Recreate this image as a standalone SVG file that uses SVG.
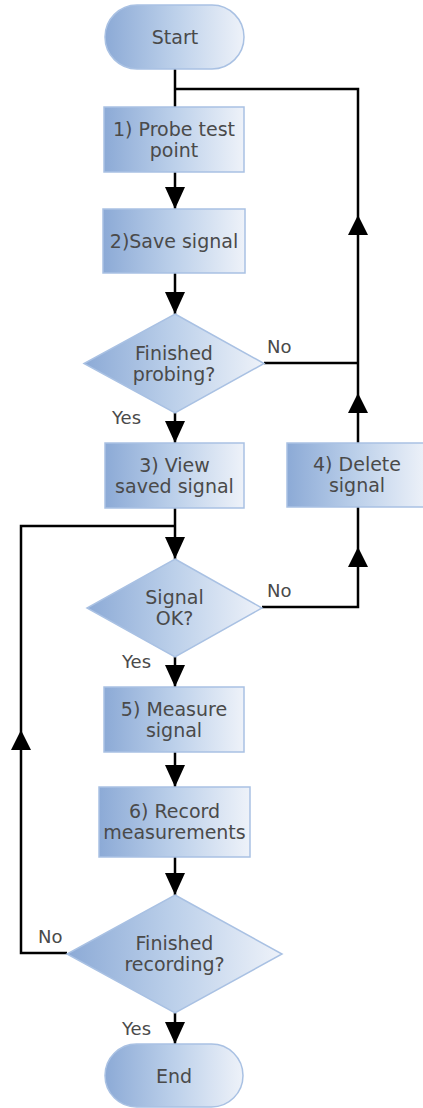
<svg xmlns="http://www.w3.org/2000/svg" width="423" height="1108" viewBox="0 0 423 1108">
<defs>
<linearGradient id="g" x1="0" y1="0" x2="1" y2="0">
<stop offset="0" stop-color="#8caad6"/>
<stop offset="0.5" stop-color="#bcd0ea"/>
<stop offset="1" stop-color="#eef2f9"/>
</linearGradient>
<marker id="ah" markerUnits="userSpaceOnUse" markerWidth="22" markerHeight="20" refX="22" refY="10" orient="auto">
<path d="M0,0 L22,10 L0,20 z" fill="#000"/>
</marker>
</defs>
<style>
.n{fill:url(#g);stroke:#a9c1e3;stroke-width:1.5}
.t{font-family:"DejaVu Sans",Verdana,sans-serif;font-size:19px;fill:#4a4a4a;text-anchor:middle}
.l{font-family:"DejaVu Sans",Verdana,sans-serif;font-size:18px;fill:#4a4a4a}
.c{fill:none;stroke:#000;stroke-width:2.5}
.a{fill:#000}
</style>
<rect width="423" height="1108" fill="#fff"/>
<g id="connectors">
<path class="c" d="M175,69 V107"/>
<path class="c" d="M175,172 V209" marker-end="url(#ah)"/>
<path class="c" d="M175,273 V314" marker-end="url(#ah)"/>
<path class="c" d="M175,413 V443" marker-end="url(#ah)"/>
<path class="c" d="M175,508 V559" marker-end="url(#ah)"/>
<path class="c" d="M175,657 V687" marker-end="url(#ah)"/>
<path class="c" d="M175,752 V787" marker-end="url(#ah)"/>
<path class="c" d="M175,857 V895" marker-end="url(#ah)"/>
<path class="c" d="M175,1013 V1044" marker-end="url(#ah)"/>
<path class="c" d="M264,363 H358"/>
<path class="c" d="M262,607 H358 V507"/>
<path class="c" d="M358,443 V89 H175"/>
<path class="c" d="M67,953 H21 V526 H175"/>
<polygon class="a" points="358,547 348,567 368,567"/>
<polygon class="a" points="358,393 348,413 368,413"/>
<polygon class="a" points="358,215 348,235 368,235"/>
<polygon class="a" points="21,730 11,750 31,750"/>
<text class="l" x="267" y="353">No</text>
<text class="l" x="112" y="424">Yes</text>
<text class="l" x="267" y="597">No</text>
<text class="l" x="122" y="668">Yes</text>
<text class="l" x="38" y="943">No</text>
<text class="l" x="122" y="1035">Yes</text>
</g>
<g id="start">
<rect class="n" x="105" y="5" width="139" height="64" rx="32"/>
<text class="t" x="175" y="44">Start</text>
</g>
<g id="probe">
<rect class="n" x="104" y="107" width="140" height="65"/>
<text class="t" x="174" y="135.5">1) Probe test</text>
<text class="t" x="174" y="156.5">point</text>
</g>
<g id="save">
<rect class="n" x="103" y="209" width="142" height="64"/>
<text class="t" x="174" y="248">2)Save signal</text>
</g>
<g id="finished-probing">
<polygon class="n" points="175,314 264,363.5 175,413 84,363.5"/>
<text class="t" x="174" y="359.5">Finished</text>
<text class="t" x="174" y="380.5">probing?</text>
</g>
<g id="view">
<rect class="n" x="105" y="443" width="139" height="65"/>
<text class="t" x="174.5" y="471.5">3) View</text>
<text class="t" x="174.5" y="492.5">saved signal</text>
</g>
<g id="delete">
<rect class="n" x="287" y="443" width="140" height="64"/>
<text class="t" x="357" y="471">4) Delete</text>
<text class="t" x="357" y="492">signal</text>
</g>
<g id="signal-ok">
<polygon class="n" points="175,559 262,608 175,657 87,608"/>
<text class="t" x="174.5" y="604">Signal</text>
<text class="t" x="174.5" y="625">OK?</text>
</g>
<g id="measure">
<rect class="n" x="104" y="687" width="140" height="65"/>
<text class="t" x="174" y="715.5">5) Measure</text>
<text class="t" x="174" y="736.5">signal</text>
</g>
<g id="record">
<rect class="n" x="99" y="787" width="151" height="70"/>
<text class="t" x="174.5" y="818">6) Record</text>
<text class="t" x="174.5" y="839">measurements</text>
</g>
<g id="finished-recording">
<polygon class="n" points="175,895 282,954 175,1013 67,954"/>
<text class="t" x="174.5" y="950">Finished</text>
<text class="t" x="174.5" y="971">recording?</text>
</g>
<g id="end">
<rect class="n" x="105" y="1044" width="138" height="63" rx="31.5"/>
<text class="t" x="174" y="1083">End</text>
</g>
</svg>
